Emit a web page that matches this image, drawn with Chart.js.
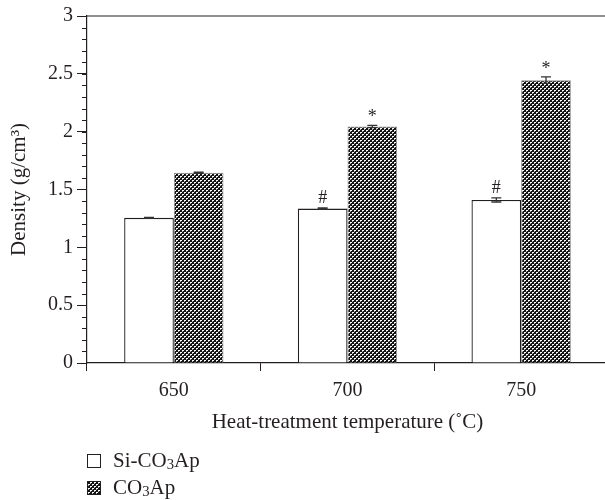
<!DOCTYPE html>
<html>
<head>
<meta charset="utf-8">
<script src="https://cdn.jsdelivr.net/npm/chart.js@4.4.1/dist/chart.umd.min.js"></script>
<style>
  html, body { margin: 0; padding: 0; background: #fff; overflow: hidden; }
  #wrap { width: 605px; height: 500px; overflow: hidden; }
</style>
</head>
<body>
<div id="wrap"><canvas id="densityChart" width="620" height="500"></canvas></div>
<script>
/* --------- DATA --------- */
const categories = ["650", "700", "750"];
const siValues = [1.255, 1.335, 1.41];
const siErrors = [0.004, 0.005, 0.018];
const co3Values = [1.645, 2.045, 2.445];
const co3Errors = [0.005, 0.01, 0.028];
const siMarks = ["", "#", "#"];
const co3Marks = ["", "*", "*"];
const seriesLabels = ["Si-CO₃Ap", "CO₃Ap"];

const ink = "#231f20";
const serif = "'Liberation Serif', 'DejaVu Serif', serif";

/* --------- HELPERS --------- */
function makePattern() {
  const c = document.createElement("canvas");
  c.width = 4;
  c.height = 4;
  const g = c.getContext("2d");
  g.fillStyle = "#141414";
  g.fillRect(0, 0, 4, 4);
  g.fillStyle = "#ffffff";
  g.fillRect(0, 0, 2, 1);
  g.fillRect(2, 2, 2, 1);
  g.fillStyle = "#b0b0b0";
  g.fillRect(0, 1, 1, 1);
  g.fillRect(2, 3, 1, 1);
  return g.createPattern(c, "repeat");
}

// draws text where ₃ becomes a small lowered 3
function drawRich(ctx, text, x, y, size) {
  let cx = x;
  for (const ch of text) {
    if (ch === "₃") {
      ctx.font = `${size * 0.7}px ${serif}`;
      ctx.fillText("3", cx, y + size * 0.22);
      cx += ctx.measureText("3").width;
    } else {
      ctx.font = `${size}px ${serif}`;
      ctx.fillText(ch, cx, y);
      cx += ctx.measureText(ch).width;
    }
  }
}

const errorsByDataset = [siErrors, co3Errors];
const marksByDataset = [siMarks, co3Marks];

/* --------- PLUGINS --------- */
const extrasPlugin = {
  id: "extras",
  afterDatasetsDraw(chart) {
    const { ctx, chartArea, scales } = chart;
    const y = scales.y;
    ctx.save();

    // top frame line
    ctx.strokeStyle = ink;
    ctx.lineWidth = 1.2;
    ctx.beginPath();
    ctx.moveTo(chartArea.left, chartArea.top);
    ctx.lineTo(chartArea.right, chartArea.top);
    ctx.stroke();

    // minor ticks on y axis
    ctx.lineWidth = 1;
    for (let v = 0; v <= 3.0001; v += 0.1) {
      const py = Math.round(y.getPixelForValue(v)) + 0.5;
      ctx.beginPath();
      ctx.moveTo(chartArea.left - 5, py);
      ctx.lineTo(chartArea.left, py);
      ctx.stroke();
    }

    // error bars and significance marks
    chart.data.datasets.forEach((ds, di) => {
      const meta = chart.getDatasetMeta(di);
      meta.data.forEach((bar, i) => {
        const v = ds.data[i];
        const e = errorsByDataset[di][i];
        const top = y.getPixelForValue(v + e);
        const bot = y.getPixelForValue(v - e);
        ctx.strokeStyle = "#333";
        ctx.lineWidth = 1.3;
        ctx.beginPath();
        ctx.moveTo(bar.x, top);
        ctx.lineTo(bar.x, bot);
        ctx.moveTo(bar.x - 5, top);
        ctx.lineTo(bar.x + 5, top);
        ctx.moveTo(bar.x - 5, bot);
        ctx.lineTo(bar.x + 5, bot);
        ctx.stroke();

        const mark = marksByDataset[di][i];
        if (mark) {
          ctx.fillStyle = ink;
          ctx.font = `18px ${serif}`;
          ctx.textAlign = "center";
          ctx.textBaseline = "alphabetic";
          ctx.fillText(mark, bar.x, top - (mark === "*" ? 3 : 5));
        }
      });
    });

    // legend, stacked vertically under the axis title
    chart.data.datasets.forEach((ds, di) => {
      const by = 454 + di * 27;
      ctx.fillStyle = ds.backgroundColor;
      ctx.fillRect(87, by, 14, 14);
      ctx.strokeStyle = ink;
      ctx.lineWidth = 1;
      ctx.strokeRect(87.5, by + 0.5, 13, 13);
      ctx.fillStyle = ink;
      ctx.textAlign = "left";
      ctx.textBaseline = "middle";
      drawRich(ctx, ds.label, 113, by + 7, 21);
    });

    ctx.restore();
  }
};

/* --------- CHART --------- */
const ctx = document.getElementById("densityChart");

new Chart(ctx, {
  type: "bar",
  data: {
    labels: categories,
    datasets: [
      {
        label: seriesLabels[0],
        data: siValues,
        backgroundColor: "#ffffff",
        borderColor: ink,
        borderWidth: 1.3,
        borderSkipped: "bottom"
      },
      {
        label: seriesLabels[1],
        data: co3Values,
        backgroundColor: makePattern(),
        borderColor: "#8a8a8a",
        borderWidth: 1,
        borderSkipped: "bottom"
      }
    ]
  },
  options: {
    responsive: false,
    animation: false,
    devicePixelRatio: 1,
    categoryPercentage: 0.572,
    barPercentage: 1.0,
    layout: { padding: { left: 0, right: 12, top: 16, bottom: 65.4 } },
    plugins: {
      legend: { display: false },
      tooltip: { enabled: false }
    },
    scales: {
      x: {
        offset: true,
        grid: { offset: true, drawOnChartArea: false, tickLength: 8, color: ink },
        border: { color: ink, width: 1.2 },
        ticks: { color: ink, font: { family: serif, size: 20 }, padding: 8 },
        title: {
          display: true,
          text: "Heat-treatment temperature (˚C)",
          color: ink,
          font: { family: serif, size: 21 },
          padding: { top: 0, bottom: 0 }
        },
        afterFit(scale) { scale.height = 71.6; }
      },
      y: {
        min: 0,
        max: 3,
        ticks: {
          stepSize: 0.5,
          color: ink,
          font: { family: serif, size: 20 },
          padding: 4,
          callback: v => String(+v.toFixed(1))
        },
        grid: { drawOnChartArea: false, tickLength: 10, color: ink },
        border: { color: ink, width: 1.2 },
        title: {
          display: true,
          text: "Density (g/cm³)",
          color: ink,
          font: { family: serif, size: 21 },
          padding: { top: 7, bottom: 0 }
        },
        afterFit(scale) { scale.width = 87; }
      }
    }
  },
  plugins: [extrasPlugin]
});
</script>
</body>
</html>
